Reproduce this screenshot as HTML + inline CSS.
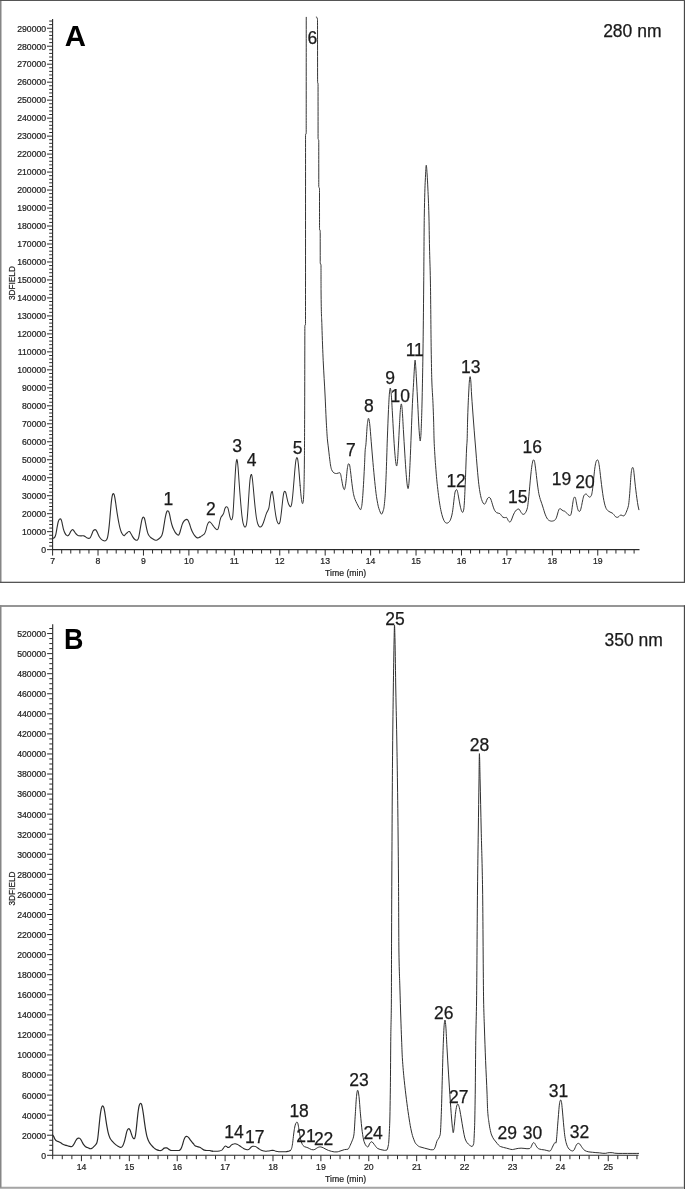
<!DOCTYPE html>
<html lang="en"><head><meta charset="utf-8"><title>HPLC chromatograms</title>
<style>html,body{margin:0;padding:0;background:#fff}svg{display:block}text{font-family:"Liberation Sans", Arial, Helvetica, sans-serif;fill:#1a1a1a}.s{font-size:8.7px;stroke:#2a2a2a;stroke-width:.22px}.l{font-size:17.5px;stroke:#1a1a1a;stroke-width:.25px}.b{font-size:27.0px;font-weight:bold;fill:#000}</style></head><body>
<svg width="685" height="1189" viewBox="0 0 685 1189">
<rect width="685" height="1189" fill="#fff"/>
<rect x="0" y="0" width="1.5" height="583" fill="#868686"/>
<rect x="683.85" y="0" width="1.15" height="583" fill="#484848"/>
<rect x="0" y="0" width="685" height="1" fill="#555"/>
<rect x="0" y="581.7" width="685" height="1.3" fill="#555"/>
<rect x="0" y="605.1" width="1.5" height="583.9" fill="#868686"/>
<rect x="0" y="605.1" width="685" height="1.8" fill="#8a8a8a"/>
<rect x="683.85" y="605.3" width="1.15" height="583.7" fill="#484848"/>
<rect x="0" y="1186.8" width="683.85" height="1" fill="#8a8a8a"/>
<rect x="0" y="1187.8" width="683.85" height="1.2" fill="#b8b8b8"/>
<path d="M52.6,19.0V549.65H639.5" fill="none" stroke="#2a2a2a" stroke-width="1.1"/>
<path d="M47.00,549.65H52.6M49.20,546.05H52.6M49.20,542.46H52.6M49.20,538.86H52.6M49.20,535.27H52.6M47.00,531.67H52.6M49.20,528.07H52.6M49.20,524.48H52.6M49.20,520.88H52.6M49.20,517.29H52.6M47.00,513.69H52.6M49.20,510.09H52.6M49.20,506.50H52.6M49.20,502.90H52.6M49.20,499.31H52.6M47.00,495.71H52.6M49.20,492.11H52.6M49.20,488.52H52.6M49.20,484.92H52.6M49.20,481.33H52.6M47.00,477.73H52.6M49.20,474.13H52.6M49.20,470.54H52.6M49.20,466.94H52.6M49.20,463.35H52.6M47.00,459.75H52.6M49.20,456.15H52.6M49.20,452.56H52.6M49.20,448.96H52.6M49.20,445.37H52.6M47.00,441.77H52.6M49.20,438.17H52.6M49.20,434.58H52.6M49.20,430.98H52.6M49.20,427.39H52.6M47.00,423.79H52.6M49.20,420.19H52.6M49.20,416.60H52.6M49.20,413.00H52.6M49.20,409.41H52.6M47.00,405.81H52.6M49.20,402.21H52.6M49.20,398.62H52.6M49.20,395.02H52.6M49.20,391.43H52.6M47.00,387.83H52.6M49.20,384.23H52.6M49.20,380.64H52.6M49.20,377.04H52.6M49.20,373.45H52.6M47.00,369.85H52.6M49.20,366.25H52.6M49.20,362.66H52.6M49.20,359.06H52.6M49.20,355.47H52.6M47.00,351.87H52.6M49.20,348.27H52.6M49.20,344.68H52.6M49.20,341.08H52.6M49.20,337.49H52.6M47.00,333.89H52.6M49.20,330.29H52.6M49.20,326.70H52.6M49.20,323.10H52.6M49.20,319.51H52.6M47.00,315.91H52.6M49.20,312.31H52.6M49.20,308.72H52.6M49.20,305.12H52.6M49.20,301.53H52.6M47.00,297.93H52.6M49.20,294.33H52.6M49.20,290.74H52.6M49.20,287.14H52.6M49.20,283.55H52.6M47.00,279.95H52.6M49.20,276.35H52.6M49.20,272.76H52.6M49.20,269.16H52.6M49.20,265.57H52.6M47.00,261.97H52.6M49.20,258.37H52.6M49.20,254.78H52.6M49.20,251.18H52.6M49.20,247.59H52.6M47.00,243.99H52.6M49.20,240.39H52.6M49.20,236.80H52.6M49.20,233.20H52.6M49.20,229.61H52.6M47.00,226.01H52.6M49.20,222.41H52.6M49.20,218.82H52.6M49.20,215.22H52.6M49.20,211.63H52.6M47.00,208.03H52.6M49.20,204.43H52.6M49.20,200.84H52.6M49.20,197.24H52.6M49.20,193.65H52.6M47.00,190.05H52.6M49.20,186.45H52.6M49.20,182.86H52.6M49.20,179.26H52.6M49.20,175.67H52.6M47.00,172.07H52.6M49.20,168.47H52.6M49.20,164.88H52.6M49.20,161.28H52.6M49.20,157.69H52.6M47.00,154.09H52.6M49.20,150.49H52.6M49.20,146.90H52.6M49.20,143.30H52.6M49.20,139.71H52.6M47.00,136.11H52.6M49.20,132.51H52.6M49.20,128.92H52.6M49.20,125.32H52.6M49.20,121.73H52.6M47.00,118.13H52.6M49.20,114.53H52.6M49.20,110.94H52.6M49.20,107.34H52.6M49.20,103.75H52.6M47.00,100.15H52.6M49.20,96.55H52.6M49.20,92.96H52.6M49.20,89.36H52.6M49.20,85.77H52.6M47.00,82.17H52.6M49.20,78.57H52.6M49.20,74.98H52.6M49.20,71.38H52.6M49.20,67.79H52.6M47.00,64.19H52.6M49.20,60.59H52.6M49.20,57.00H52.6M49.20,53.40H52.6M49.20,49.81H52.6M47.00,46.21H52.6M49.20,42.61H52.6M49.20,39.02H52.6M49.20,35.42H52.6M49.20,31.83H52.6M47.00,28.23H52.6M49.20,24.63H52.6M49.20,21.04H52.6" fill="none" stroke="#2a2a2a" stroke-width="1.0"/>
<path d="M52.60,549.65v5.9M61.69,549.65v3.9M70.77,549.65v3.9M79.86,549.65v3.9M88.94,549.65v3.9M98.03,549.65v5.9M107.12,549.65v3.9M116.20,549.65v3.9M125.29,549.65v3.9M134.37,549.65v3.9M143.46,549.65v5.9M152.55,549.65v3.9M161.63,549.65v3.9M170.72,549.65v3.9M179.80,549.65v3.9M188.89,549.65v5.9M197.98,549.65v3.9M207.06,549.65v3.9M216.15,549.65v3.9M225.23,549.65v3.9M234.32,549.65v5.9M243.41,549.65v3.9M252.49,549.65v3.9M261.58,549.65v3.9M270.66,549.65v3.9M279.75,549.65v5.9M288.84,549.65v3.9M297.92,549.65v3.9M307.01,549.65v3.9M316.09,549.65v3.9M325.18,549.65v5.9M334.27,549.65v3.9M343.35,549.65v3.9M352.44,549.65v3.9M361.52,549.65v3.9M370.61,549.65v5.9M379.70,549.65v3.9M388.78,549.65v3.9M397.87,549.65v3.9M406.95,549.65v3.9M416.04,549.65v5.9M425.13,549.65v3.9M434.21,549.65v3.9M443.30,549.65v3.9M452.38,549.65v3.9M461.47,549.65v5.9M470.56,549.65v3.9M479.64,549.65v3.9M488.73,549.65v3.9M497.81,549.65v3.9M506.90,549.65v5.9M515.99,549.65v3.9M525.07,549.65v3.9M534.16,549.65v3.9M543.24,549.65v3.9M552.33,549.65v5.9M561.42,549.65v3.9M570.50,549.65v3.9M579.59,549.65v3.9M588.67,549.65v3.9M597.76,549.65v5.9M606.85,549.65v3.9M615.93,549.65v3.9M625.02,549.65v3.9M634.10,549.65v3.9" fill="none" stroke="#2a2a2a" stroke-width="1.0"/>
<g class="s" text-anchor="end">
<text transform="translate(46.2,552.95) scale(1,1.06)">0</text>
<text transform="translate(46.2,534.97) scale(1,1.06)">10000</text>
<text transform="translate(46.2,516.99) scale(1,1.06)">20000</text>
<text transform="translate(46.2,499.01) scale(1,1.06)">30000</text>
<text transform="translate(46.2,481.03) scale(1,1.06)">40000</text>
<text transform="translate(46.2,463.05) scale(1,1.06)">50000</text>
<text transform="translate(46.2,445.07) scale(1,1.06)">60000</text>
<text transform="translate(46.2,427.09) scale(1,1.06)">70000</text>
<text transform="translate(46.2,409.11) scale(1,1.06)">80000</text>
<text transform="translate(46.2,391.13) scale(1,1.06)">90000</text>
<text transform="translate(46.2,373.15) scale(1,1.06)">100000</text>
<text transform="translate(46.2,355.17) scale(1,1.06)">110000</text>
<text transform="translate(46.2,337.19) scale(1,1.06)">120000</text>
<text transform="translate(46.2,319.21) scale(1,1.06)">130000</text>
<text transform="translate(46.2,301.23) scale(1,1.06)">140000</text>
<text transform="translate(46.2,283.25) scale(1,1.06)">150000</text>
<text transform="translate(46.2,265.27) scale(1,1.06)">160000</text>
<text transform="translate(46.2,247.29) scale(1,1.06)">170000</text>
<text transform="translate(46.2,229.31) scale(1,1.06)">180000</text>
<text transform="translate(46.2,211.33) scale(1,1.06)">190000</text>
<text transform="translate(46.2,193.35) scale(1,1.06)">200000</text>
<text transform="translate(46.2,175.37) scale(1,1.06)">210000</text>
<text transform="translate(46.2,157.39) scale(1,1.06)">220000</text>
<text transform="translate(46.2,139.41) scale(1,1.06)">230000</text>
<text transform="translate(46.2,121.43) scale(1,1.06)">240000</text>
<text transform="translate(46.2,103.45) scale(1,1.06)">250000</text>
<text transform="translate(46.2,85.47) scale(1,1.06)">260000</text>
<text transform="translate(46.2,67.49) scale(1,1.06)">270000</text>
<text transform="translate(46.2,49.51) scale(1,1.06)">280000</text>
<text transform="translate(46.2,31.53) scale(1,1.06)">290000</text>
</g>
<g class="s" text-anchor="middle">
<text transform="translate(52.60,564.4) scale(1,1.06)">7</text>
<text transform="translate(98.03,564.4) scale(1,1.06)">8</text>
<text transform="translate(143.46,564.4) scale(1,1.06)">9</text>
<text transform="translate(188.89,564.4) scale(1,1.06)">10</text>
<text transform="translate(234.32,564.4) scale(1,1.06)">11</text>
<text transform="translate(279.75,564.4) scale(1,1.06)">12</text>
<text transform="translate(325.18,564.4) scale(1,1.06)">13</text>
<text transform="translate(370.61,564.4) scale(1,1.06)">14</text>
<text transform="translate(416.04,564.4) scale(1,1.06)">15</text>
<text transform="translate(461.47,564.4) scale(1,1.06)">16</text>
<text transform="translate(506.90,564.4) scale(1,1.06)">17</text>
<text transform="translate(552.33,564.4) scale(1,1.06)">18</text>
<text transform="translate(597.76,564.4) scale(1,1.06)">19</text>
<text transform="translate(345.6,575.8) scale(1,1.06)">Time (min)</text>
<text transform="translate(15.0,283.1) rotate(-90) scale(0.95,1.04)">3DFIELD</text>
</g>
<g fill="none" stroke="#303030" stroke-linejoin="round" stroke-linecap="round">
<path d="M52.57,538.16C53.27,538.47 53.97,537.93 54.67,537.23C55.06,536.83 55.45,535.72 55.84,534.31C56.23,532.89 56.62,529.92 57.01,527.88C57.40,525.84 57.79,523.27 58.18,522.04C58.56,520.81 58.95,519.85 59.34,519.47C59.65,519.17 59.97,518.91 60.28,518.89C60.63,518.87 60.98,519.29 61.33,519.94C61.64,520.52 61.95,522.45 62.26,523.80C62.65,525.48 63.04,527.71 63.43,529.05C63.94,530.79 64.44,532.26 64.95,533.14C65.42,533.95 65.88,534.74 66.35,535.12C66.82,535.51 67.28,535.90 67.75,535.82C68.26,535.74 68.76,535.02 69.27,534.31C69.78,533.60 70.28,532.18 70.79,531.39C71.18,530.78 71.57,530.15 71.96,529.87C72.23,529.67 72.50,529.54 72.77,529.64C73.16,529.77 73.55,530.31 73.94,530.80C74.45,531.44 74.95,532.50 75.46,533.14C76.00,533.83 76.55,534.51 77.09,534.89C77.60,535.25 78.11,535.67 78.61,535.71C79.39,535.77 80.17,535.80 80.95,535.82C81.92,535.85 82.90,535.77 83.87,535.82C84.45,535.86 85.04,536.51 85.62,536.88C86.20,537.25 86.79,537.76 87.37,538.04C87.84,538.27 88.31,538.36 88.77,538.39C89.28,538.43 89.79,538.06 90.29,537.58C90.80,537.09 91.30,535.48 91.81,534.31C92.28,533.22 92.74,531.40 93.21,530.80C93.60,530.30 93.99,530.03 94.38,529.87C94.69,529.74 95.00,529.61 95.31,529.64C95.66,529.66 96.01,530.09 96.36,530.57C96.87,531.26 97.38,532.69 97.88,533.72C98.47,534.91 99.05,536.33 99.64,537.23C100.22,538.12 100.80,538.86 101.39,539.33C101.97,539.80 102.55,540.25 103.14,540.50C103.72,540.75 104.31,540.93 104.89,540.96C105.36,540.99 105.82,540.50 106.29,540.15C106.68,539.85 107.07,538.88 107.46,537.81C107.77,536.95 108.08,534.67 108.39,532.55C108.71,530.44 109.02,527.48 109.33,524.38C109.64,521.28 109.95,517.37 110.26,513.87C110.57,510.36 110.89,506.23 111.20,503.36C111.51,500.48 111.82,497.73 112.13,496.35C112.36,495.32 112.60,494.25 112.83,494.01C113.03,493.82 113.22,493.66 113.42,493.66C113.65,493.66 113.88,494.13 114.12,494.60C114.39,495.14 114.66,496.65 114.93,498.10C115.28,499.98 115.64,502.71 115.99,505.11C116.37,507.77 116.76,510.81 117.15,513.28C117.66,516.50 118.17,519.47 118.67,522.04C119.14,524.42 119.61,526.82 120.07,528.47C120.54,530.11 121.01,531.66 121.47,532.55C121.98,533.52 122.49,534.40 122.99,534.89C123.42,535.30 123.85,535.91 124.28,535.71C124.52,535.60 124.76,535.14 125.00,534.89C125.58,534.28 126.17,533.69 126.75,533.14C127.34,532.59 127.92,531.95 128.50,531.62C128.82,531.44 129.13,531.46 129.44,531.62C129.91,531.86 130.37,532.76 130.84,533.49C131.42,534.40 132.01,535.74 132.59,536.64C133.18,537.54 133.76,538.46 134.34,538.98C134.93,539.50 135.51,539.92 136.09,540.15C136.48,540.30 136.87,540.22 137.26,540.15C137.65,540.07 138.04,539.33 138.43,538.39C138.82,537.46 139.21,534.70 139.60,532.55C139.99,530.41 140.38,527.68 140.77,525.55C141.16,523.41 141.55,521.03 141.93,519.71C142.25,518.65 142.56,517.67 142.87,517.37C143.14,517.11 143.41,517.01 143.69,517.14C143.96,517.27 144.23,517.83 144.50,518.54C144.82,519.35 145.13,521.17 145.44,522.63C145.83,524.45 146.22,526.72 146.61,528.47C147.00,530.21 147.38,532.12 147.77,533.14C148.16,534.16 148.55,534.96 148.94,535.47C149.53,536.25 150.11,537.02 150.69,537.46C151.47,538.05 152.25,538.53 153.03,538.98C153.61,539.31 154.20,539.69 154.78,539.91C155.36,540.14 155.95,540.32 156.53,540.26C157.12,540.21 157.70,539.71 158.28,539.33C158.87,538.95 159.45,538.37 160.04,537.81C160.62,537.25 161.20,536.48 161.79,535.47C162.18,534.81 162.57,533.17 162.96,531.39C163.35,529.60 163.73,526.72 164.12,524.38C164.51,522.04 164.90,519.34 165.29,517.37C165.68,515.41 166.07,513.44 166.46,512.47C166.73,511.79 167.00,511.16 167.28,510.95C167.51,510.77 167.74,510.66 167.98,510.72C168.25,510.78 168.52,511.25 168.80,511.77C169.11,512.35 169.42,513.73 169.73,515.04C170.08,516.50 170.43,518.73 170.78,520.29C171.17,522.02 171.56,523.73 171.95,524.96C172.45,526.56 172.96,527.97 173.47,529.05C174.05,530.30 174.64,531.52 175.22,532.32C175.80,533.12 176.39,533.80 176.97,534.31C177.48,534.75 177.98,535.13 178.49,535.12C178.88,535.12 179.27,534.11 179.66,533.14C180.05,532.17 180.44,530.38 180.82,529.05C181.29,527.46 181.76,525.54 182.23,524.38C182.73,523.12 183.24,522.12 183.74,521.46C184.21,520.85 184.68,520.23 185.15,519.94C185.65,519.63 186.16,519.40 186.66,519.36C187.13,519.32 187.60,519.76 188.07,520.29C188.53,520.83 189.00,522.49 189.47,523.80C189.97,525.21 190.48,527.12 190.99,528.47C191.57,530.02 192.15,531.44 192.74,532.55C193.32,533.67 193.91,534.76 194.49,535.47C195.07,536.18 195.66,536.86 196.24,537.23C196.75,537.54 197.25,537.97 197.76,537.93C198.51,537.87 199.25,537.41 200.00,537.01" stroke-width="1.12"/>
<path d="M200.00,537.01C200.78,536.59 201.56,536.01 202.34,535.49C203.04,535.02 203.74,534.56 204.44,533.85C204.91,533.38 205.37,531.98 205.84,530.58C206.23,529.42 206.62,527.12 207.01,525.91C207.40,524.70 207.79,523.48 208.18,522.99C208.64,522.40 209.11,521.71 209.58,521.82C210.08,521.95 210.59,522.45 211.09,522.99C211.68,523.62 212.26,524.55 212.85,525.33C213.43,526.11 214.01,526.98 214.60,527.66C215.18,528.35 215.77,528.98 216.35,529.42C216.82,529.77 217.28,529.70 217.75,529.42C218.14,529.18 218.53,527.42 218.92,525.91C219.31,524.41 219.70,521.58 220.09,520.07C220.40,518.86 220.71,517.70 221.02,517.15C221.49,516.34 221.96,516.11 222.42,515.40C222.85,514.76 223.28,514.11 223.71,513.07C224.06,512.21 224.41,509.83 224.76,508.98C225.15,508.03 225.54,507.24 225.93,506.99C226.32,506.75 226.71,506.71 227.09,506.88C227.41,507.01 227.72,507.58 228.03,508.39C228.34,509.21 228.65,511.11 228.96,512.48C229.31,514.03 229.66,515.97 230.01,517.15C230.33,518.20 230.64,519.06 230.95,519.49C231.22,519.86 231.49,519.81 231.77,519.72C232.08,519.62 232.39,518.20 232.70,516.57C232.97,515.14 233.25,510.32 233.52,506.06C233.79,501.80 234.06,495.94 234.34,490.88C234.61,485.82 234.88,480.27 235.15,475.69C235.39,471.77 235.62,467.60 235.85,465.18C236.05,463.17 236.24,461.24 236.44,460.51C236.59,459.93 236.75,459.34 236.91,459.34C237.06,459.34 237.22,460.29 237.37,461.09C237.61,462.30 237.84,464.84 238.07,467.52C238.35,470.64 238.62,475.38 238.89,479.20C239.20,483.56 239.51,488.01 239.82,492.04C240.18,496.58 240.53,501.03 240.88,504.89C241.27,509.17 241.65,513.67 242.04,516.57C242.43,519.47 242.82,522.21 243.21,523.58C243.60,524.94 243.99,526.33 244.38,526.73C244.69,527.05 245.00,527.17 245.31,527.08C245.63,526.99 245.94,526.16 246.25,525.33C246.56,524.50 246.87,521.70 247.18,518.91C247.45,516.46 247.73,512.28 248.00,508.39C248.27,504.51 248.55,499.63 248.82,495.55C249.09,491.46 249.36,486.95 249.64,483.87C249.87,481.23 250.10,478.75 250.34,477.45C250.57,476.14 250.80,474.82 251.04,474.53C251.27,474.23 251.50,474.50 251.74,475.11C251.97,475.72 252.20,477.43 252.44,479.20C252.71,481.25 252.98,484.48 253.26,487.37C253.57,490.68 253.88,494.58 254.19,497.88C254.54,501.60 254.89,505.28 255.24,508.39C255.63,511.86 256.02,515.50 256.41,517.74C256.84,520.19 257.27,522.44 257.69,523.58C258.12,524.71 258.55,525.88 258.98,526.26C259.45,526.68 259.91,527.13 260.38,527.08C260.89,527.03 261.39,526.49 261.90,525.91C262.36,525.38 262.83,524.18 263.30,522.99C263.81,521.70 264.31,519.88 264.82,518.32C265.32,516.76 265.83,514.94 266.34,513.65C266.80,512.46 267.27,511.76 267.74,510.73C268.13,509.87 268.52,509.26 268.91,507.81C269.22,506.65 269.53,503.53 269.84,501.39C270.15,499.25 270.46,496.51 270.77,494.96C271.05,493.61 271.32,492.67 271.59,492.04C271.86,491.42 272.14,491.46 272.41,491.46C272.46,491.46 272.52,492.20 272.57,492.55C272.88,494.61 273.19,496.20 273.50,498.39C273.89,501.14 274.28,504.82 274.67,507.74C275.06,510.65 275.45,513.77 275.84,515.91C276.23,518.06 276.62,520.14 277.01,521.17C277.40,522.19 277.79,523.12 278.18,523.50C278.49,523.81 278.80,523.93 279.11,523.85C279.42,523.77 279.73,522.81 280.04,521.75C280.39,520.56 280.74,517.48 281.09,514.74C281.48,511.70 281.87,507.69 282.26,504.23C282.57,501.47 282.89,498.05 283.20,496.06C283.47,494.32 283.74,492.75 284.01,492.20C284.29,491.66 284.56,491.10 284.83,491.15C285.10,491.21 285.38,491.67 285.65,492.32C285.96,493.06 286.27,494.73 286.58,496.06C286.97,497.71 287.36,499.89 287.75,501.31C288.14,502.74 288.53,504.06 288.92,504.82C289.31,505.58 289.70,506.26 290.09,506.57C290.32,506.76 290.55,506.69 290.79,506.57C291.06,506.42 291.33,505.33 291.61,504.23C291.92,502.98 292.23,500.05 292.54,497.23C292.89,494.05 293.24,489.63 293.59,485.55C293.94,481.46 294.29,476.71 294.64,472.70C294.95,469.14 295.27,465.15 295.58,462.77C295.81,460.99 296.04,459.37 296.28,458.69C296.47,458.11 296.67,457.52 296.86,457.52C297.09,457.52 297.33,458.04 297.56,458.69C297.80,459.33 298.03,461.36 298.26,463.36C298.57,466.02 298.89,470.17 299.20,473.87C299.51,477.57 299.82,481.85 300.13,485.55" stroke-width="1.02"/>
<path d="M300.13,485.55C300.44,489.25 300.75,493.30 301.07,496.06C301.34,498.47 301.61,500.83 301.88,501.90C302.12,502.81 302.35,503.65 302.58,503.65C302.78,503.65 302.97,502.86 303.17,501.90C303.32,501.13 303.48,498.76 303.64,496.06C303.75,494.04 303.87,491.07 303.99,486.72C304.12,481.56 304.26,473.85 304.40,460.00C304.50,449.98 304.60,427.71 304.70,400.00C304.76,383.38 304.82,326.47 304.88,326.00C305.09,324.39 305.29,325.86 305.50,324.00C305.52,323.85 305.53,135.14 305.55,135.00C305.77,133.14 305.98,134.86 306.20,133.00C306.22,132.86 306.23,58.62 306.25,17.30" stroke-width="0.98"/>
<path d="M316.30,17.00C316.70,17.00 317.10,17.19 317.50,19.50C317.53,19.69 317.57,81.63 317.60,82.00C317.75,83.67 317.90,82.13 318.05,84.00C318.06,84.12 318.07,138.51 318.08,138.60C318.30,140.51 318.53,138.69 318.75,140.60C318.76,140.69 318.77,186.62 318.78,186.70C319.02,188.62 319.26,186.78 319.50,188.70C319.51,188.78 319.52,228.91 319.53,229.00C319.75,230.91 319.98,229.09 320.20,231.00C320.21,231.09 320.22,262.93 320.23,263.00C320.49,264.92 320.74,263.13 321.00,265.00C321.02,265.12 321.03,288.29 321.05,290.00C321.33,319.00 321.62,315.84 321.90,325.30C322.33,339.76 322.77,351.43 323.20,360.70C323.83,374.25 324.47,383.08 325.10,396.00C325.47,403.48 325.83,413.19 326.20,420.00C326.62,427.80 327.04,435.68 327.46,440.00C327.69,442.40 327.93,443.85 328.16,445.84C328.43,448.16 328.71,450.51 328.98,452.85C329.25,455.18 329.52,457.75 329.80,459.85C330.11,462.26 330.42,464.78 330.73,466.28C331.04,467.77 331.35,469.13 331.66,469.78C332.13,470.76 332.60,471.73 333.07,472.12C333.65,472.60 334.23,473.15 334.82,473.28C335.40,473.42 335.99,473.62 336.57,473.52C337.15,473.42 337.74,473.21 338.32,473.05C338.79,472.93 339.26,472.78 339.72,472.70C340.03,472.65 340.35,473.55 340.66,474.45C340.93,475.25 341.20,477.09 341.47,478.54C341.79,480.20 342.10,482.24 342.41,483.80C342.72,485.35 343.03,486.94 343.34,487.88C343.65,488.83 343.97,489.58 344.28,489.64C344.61,489.69 344.94,488.21 345.28,486.72C345.63,485.14 345.98,481.62 346.33,478.54C346.64,475.80 346.95,471.53 347.26,469.20C347.54,467.15 347.81,465.10 348.08,464.53C348.31,464.03 348.55,463.66 348.78,463.71C349.05,463.76 349.33,464.33 349.60,465.11C349.87,465.89 350.14,468.30 350.42,470.36C350.73,472.72 351.04,475.94 351.35,478.54C351.74,481.79 352.13,485.20 352.52,487.88C352.91,490.57 353.30,493.28 353.69,494.89C354.15,496.82 354.62,498.41 355.09,499.56C355.71,501.10 356.33,502.39 356.96,503.65C357.62,504.99 358.28,506.32 358.94,507.50C359.45,508.41 359.95,509.31 360.46,509.72C360.85,510.04 361.24,508.11 361.63,506.57C361.94,505.34 362.25,501.83 362.56,498.39C362.87,494.96 363.18,489.57 363.50,484.38C363.81,479.19 364.12,473.05 364.43,466.86C364.70,461.45 364.98,452.98 365.25,449.34C365.46,446.48 365.68,447.24 365.89,444.80C366.36,439.44 366.83,428.88 367.30,424.77C367.70,421.35 368.09,418.29 368.48,418.29C368.88,418.30 369.27,420.55 369.66,423.59C370.17,427.55 370.68,435.25 371.19,441.27C371.78,448.21 372.37,455.81 372.96,462.47C373.55,469.14 374.14,475.69 374.73,481.33C375.32,486.97 375.91,492.93 376.49,496.64C377.28,501.59 378.07,506.06 378.85,508.42C379.72,511.02 380.58,513.53 381.44,514.08C382.15,514.53 382.86,511.73 383.56,509.60C384.04,508.19 384.51,503.10 384.98,497.82C385.37,493.42 385.76,483.85 386.16,474.26C386.55,464.66 386.94,449.62 387.33,438.91C387.73,428.20 388.12,417.56 388.51,409.46C388.83,402.97 389.14,395.96 389.46,392.96C389.73,390.34 390.00,387.85 390.28,388.01C390.59,388.20 390.91,390.90 391.22,394.14C391.62,398.19 392.01,406.30 392.40,412.99C392.79,419.68 393.19,427.74 393.58,434.20C393.97,440.65 394.36,447.15 394.76,451.87C395.15,456.60 395.54,461.38 395.94,463.65C396.17,465.02 396.41,466.04 396.64,466.01C396.92,465.97 397.19,463.79 397.47,461.30C397.78,458.45 398.10,451.67 398.41,445.98C398.76,439.58 399.12,431.17 399.47,424.77C399.78,419.08 400.10,412.52 400.41,409.46C400.73,406.39 401.04,403.82 401.35,403.92C401.63,404.00 401.90,406.39 402.18,409.46C402.57,413.83 402.97,422.88 403.36,429.48C403.83,437.41 404.30,445.58 404.77,453.05C405.24,460.51 405.71,468.53 406.19,474.26C406.58,479.03 406.97,483.65 407.36,486.04C407.60,487.47 407.84,488.57 408.07,488.63C408.35,488.70 408.62,486.24 408.90,483.68C409.29,480.03 409.68,470.89 410.07,462.47C410.47,454.06 410.86,442.84 411.25,433.02C411.64,423.20 412.04,411.79 412.43,403.56C412.82,395.34 413.22,389.46 413.61,382.36C413.87,377.59 414.14,371.98 414.40,368.00C414.63,364.48 414.87,360.01 415.10,360.10C415.33,360.19 415.57,364.64 415.80,368.00C416.03,371.36 416.27,375.77 416.50,380.00C416.91,387.44 417.32,395.55 417.73,403.56C418.12,411.23 418.52,420.94 418.91,427.13C419.22,432.08 419.54,436.49 419.85,438.91C419.97,439.82 420.09,441.03 420.21,441.03C420.40,441.03 420.60,438.73 420.80,436.55C421.03,433.94 421.27,427.95 421.50,421.24C422.00,407.01 422.50,382.68 423.00,350.00C423.23,334.73 423.47,309.20 423.70,285.00C423.90,264.26 424.10,226.28 424.30,215.00C424.63,196.21 424.97,185.91 425.30,180.00C425.63,174.09 425.97,164.53 426.30,165.30C426.57,165.92 426.83,170.09 427.10,174.00C427.37,177.91 427.63,183.51 427.90,189.00C428.23,195.86 428.57,203.00 428.90,215.00C429.10,222.20 429.30,238.05 429.50,247.00C429.80,260.42 430.10,265.12 430.40,281.00C430.67,295.12 430.93,333.33 431.20,350.00C431.40,362.50 431.60,374.07 431.80,380.00C432.20,391.87 432.60,393.97 433.00,403.60C433.20,408.42 433.40,413.39 433.60,420.00C433.76,425.37 433.93,435.58 434.09,440.00C434.28,445.29 434.48,448.30 434.67,451.68C434.98,457.08 435.29,461.61 435.61,465.69C436.00,470.80 436.38,475.72 436.77,479.71C437.24,484.49 437.71,488.75 438.18,492.55C438.64,496.36 439.11,500.17 439.58,503.07C440.08,506.20 440.59,509.03 441.09,511.24C441.60,513.46 442.11,515.59 442.61,517.08C443.08,518.46 443.55,519.78 444.01,520.58C444.52,521.45 445.03,522.41 445.53,522.69C446.08,522.98 446.62,523.24 447.17,523.15C447.67,523.07 448.18,522.69 448.69,522.34C449.15,522.01 449.62,521.33 450.09,520.58C450.52,519.90 450.94,518.45 451.37,517.08C451.72,515.96 452.07,514.35 452.42,512.41C452.73,510.68 453.05,507.92 453.36,505.40C453.67,502.88 453.98,499.57 454.29,497.23C454.56,495.17 454.84,492.91 455.11,491.97C455.38,491.03 455.65,490.27 455.93,489.99C456.16,489.74 456.39,489.54 456.63,489.64C456.90,489.75 457.17,490.51 457.45,491.39C457.76,492.39 458.07,494.41 458.38,496.06C458.73,497.91 459.08,500.05 459.43,501.90C459.82,503.95 460.21,506.19 460.60,507.74C460.99,509.28 461.38,510.73 461.77,511.47C462.08,512.07 462.39,512.36 462.70,512.41C463.01,512.46 463.32,511.19 463.64,510.07C463.87,509.23 464.10,506.21 464.34,503.07C464.53,500.44 464.73,495.63 464.92,491.39C465.11,487.14 465.31,482.40 465.50,477.37C465.70,472.34 465.89,466.05 466.09,461.02C466.28,455.99 466.48,450.57 466.67,447.01C466.83,444.16 466.98,443.47 467.14,440.00C467.29,436.57 467.45,425.04 467.60,420.00C467.93,409.07 468.27,401.60 468.60,395.00C468.87,389.72 469.13,383.59 469.40,381.00C469.63,378.74 469.87,376.60 470.10,376.60C470.33,376.60 470.57,378.50 470.80,381.00C471.07,383.86 471.33,390.93 471.60,395.00C472.20,404.17 472.80,412.06 473.40,420.00C473.92,426.90 474.44,433.58 474.96,440.00C475.16,442.40 475.35,444.63 475.55,447.01C475.86,450.81 476.17,454.87 476.48,458.69C476.87,463.46 477.26,468.44 477.65,472.70C478.04,476.97 478.43,481.29 478.82,484.38C479.28,488.08 479.75,491.42 480.22,493.72C480.69,496.02 481.15,498.24 481.62,499.56C482.13,500.99 482.63,502.38 483.14,503.07C483.57,503.64 484.00,504.30 484.42,504.23C484.89,504.16 485.36,503.31 485.82,502.48C486.29,501.65 486.76,499.76 487.23,498.98C487.62,498.33 488.00,497.78 488.39,497.58C488.78,497.37 489.17,497.33 489.56,497.46C489.95,497.59 490.34,498.23 490.73,498.98C491.12,499.72 491.51,501.25 491.90,502.48C492.36,503.96 492.83,505.86 493.30,507.15C493.81,508.56 494.31,509.91 494.82,510.66C495.40,511.51 495.99,512.39 496.57,512.64C497.15,512.89 497.74,513.06 498.32,513.23C498.83,513.37 499.33,513.34 499.84,513.58C500.31,513.79 500.77,514.77 501.24,515.33C501.82,516.02 502.41,517.08 502.99,517.31C503.58,517.55 504.16,517.62 504.74,517.66C505.33,517.71 505.91,517.35 506.50,517.43C507.09,517.51 507.68,519.79 508.27,520.58C508.82,521.31 509.36,522.10 509.91,522.10C510.41,522.11 510.92,521.01 511.42,520.00C511.93,518.99 512.44,517.12 512.94,515.91C513.49,514.62 514.03,513.30 514.58,512.41C515.16,511.46 515.74,510.54 516.33,510.07C516.83,509.66 517.34,509.32 517.85,509.14C518.24,509.00 518.63,508.92 519.01,509.14C519.48,509.40 519.95,510.53 520.42,511.24C520.92,512.01 521.43,513.08 521.93,513.58C522.40,514.04 522.87,514.37 523.34,514.39C523.84,514.42 524.35,513.98 524.85,513.58C525.32,513.20 525.79,512.14 526.26,511.24C526.64,510.50 527.03,509.34 527.42,507.74C527.73,506.46 528.05,503.42 528.36,500.73C528.67,498.04 528.98,494.69 529.29,491.39C529.60,488.08 529.91,484.18 530.23,480.88C530.54,477.57 530.85,474.21 531.16,471.53C531.47,468.86 531.78,466.23 532.09,464.53C532.41,462.82 532.72,460.97 533.03,460.44C533.26,460.04 533.50,459.79 533.73,459.85C533.96,459.91 534.20,460.39 534.43,461.02C534.66,461.65 534.90,463.53 535.13,465.11C535.40,466.95 535.68,469.27 535.95,471.53C536.26,474.12 536.57,477.14 536.88,479.71C537.23,482.60 537.58,485.51 537.93,487.88C538.32,490.52 538.71,493.18 539.10,494.89C539.53,496.77 539.96,498.22 540.39,499.56C540.85,501.03 541.32,502.25 541.79,503.65C542.29,505.17 542.80,506.70 543.31,508.32C543.77,509.81 544.24,511.65 544.71,512.99C545.18,514.34 545.64,515.54 546.11,516.50C546.62,517.53 547.12,518.65 547.63,519.18C548.21,519.80 548.80,520.37 549.38,520.58C550.08,520.85 550.78,521.15 551.48,521.17C552.14,521.18 552.81,520.98 553.47,520.82C554.05,520.67 554.64,520.24 555.22,519.77C555.69,519.39 556.15,518.28 556.62,517.08C557.01,516.08 557.40,514.28 557.79,512.99C558.10,511.96 558.41,510.74 558.72,510.07C559.03,509.41 559.35,508.71 559.66,508.67C559.97,508.63 560.28,508.70 560.59,508.91C561.06,509.22 561.53,509.75 561.99,510.07C562.46,510.39 562.93,510.69 563.39,510.89C563.86,511.10 564.33,511.01 564.80,511.24C565.30,511.49 565.81,512.12 566.31,512.64C566.82,513.16 567.33,513.95 567.83,514.39C568.30,514.81 568.77,515.10 569.23,515.33C569.62,515.52 570.01,515.43 570.40,515.33C570.71,515.25 571.02,514.18 571.34,512.99C571.61,511.95 571.88,509.59 572.15,507.74C572.43,505.89 572.70,503.43 572.97,501.90C573.28,500.15 573.59,498.40 573.91,497.81C574.18,497.29 574.45,496.91 574.72,496.99C575.00,497.07 575.27,497.59 575.54,498.39C575.85,499.32 576.16,501.51 576.47,503.07C576.79,504.62 577.10,506.56 577.41,507.74C577.80,509.21 578.19,510.56 578.58,511.01C578.89,511.37 579.20,511.58 579.51,511.47C579.84,511.37 580.16,510.79 580.49,510.07C580.88,509.21 581.27,507.15 581.66,505.40C582.05,503.66 582.44,501.20 582.82,499.56C583.21,497.93 583.60,496.05 583.99,495.47C584.38,494.89 584.77,494.47 585.16,494.31C585.55,494.15 585.94,493.87 586.33,494.07C586.76,494.30 587.18,495.01 587.61,495.47C588.08,495.98 588.55,496.67 589.01,496.99C589.40,497.26 589.79,497.10 590.18,496.99C590.57,496.88 590.96,496.17 591.35,495.47C591.66,494.92 591.97,493.21 592.28,491.39C592.56,489.79 592.83,486.91 593.10,484.38C593.37,481.85 593.65,478.76 593.92,476.20C594.23,473.29 594.54,470.17 594.85,468.03C595.17,465.89 595.48,463.90 595.79,462.77C596.06,461.79 596.33,460.77 596.61,460.44C596.88,460.11 597.15,459.85 597.42,459.85C597.70,459.85 597.97,460.30 598.24,460.79C598.51,461.28 598.79,462.96 599.06,464.53C599.37,466.32 599.68,469.00 599.99,471.53C600.30,474.06 600.62,477.11 600.93,479.71C601.32,482.96 601.71,486.14 602.09,489.05C602.48,491.96 602.87,494.97 603.26,497.23C603.65,499.49 604.04,501.50 604.43,503.07C604.82,504.63 605.21,506.20 605.60,507.15C605.99,508.11 606.38,509.01 606.77,509.49C607.27,510.11 607.78,510.66 608.28,511.01C608.87,511.41 609.45,511.75 610.04,512.06C610.74,512.42 611.44,512.58 612.14,512.99C612.68,513.32 613.23,513.92 613.77,514.51C614.28,515.06 614.79,516.08 615.29,516.50C615.80,516.91 616.30,517.24 616.81,517.31C617.28,517.39 617.74,517.32 618.21,517.08C618.68,516.84 619.15,515.96 619.61,515.68C620.12,515.37 620.63,515.00 621.13,515.09C621.64,515.19 622.14,515.51 622.65,515.68C623.04,515.81 623.43,515.91 623.82,515.91C624.21,515.92 624.60,515.28 624.99,514.74C625.37,514.21 625.76,513.26 626.15,512.41C626.54,511.56 626.93,510.54 627.32,509.49C627.71,508.44 628.10,507.18 628.49,505.40C628.76,504.16 629.03,501.21 629.31,498.39C629.58,495.58 629.85,491.65 630.12,487.88C630.36,484.65 630.59,480.18 630.82,477.37C631.06,474.57 631.29,471.86 631.53,470.60C631.76,469.34 631.99,468.03 632.23,467.80C632.42,467.60 632.62,467.45 632.81,467.45C633.00,467.45 633.20,468.01 633.39,468.61C633.63,469.34 633.86,471.83 634.09,473.87C634.37,476.25 634.64,479.51 634.91,482.04C635.22,484.94 635.54,487.66 635.85,490.22C636.20,493.09 636.55,495.92 636.90,498.39C637.29,501.15 637.68,503.91 638.07,505.99C638.34,507.44 638.61,508.83 638.88,509.72" stroke-width="0.98"/>
</g>
<path d="M52.7,624.2V1155.3H638.6" fill="none" stroke="#2a2a2a" stroke-width="1.1"/>
<path d="M47.10,1155.30H52.7M49.30,1150.28H52.7M49.30,1145.27H52.7M49.30,1140.25H52.7M47.10,1135.23H52.7M49.30,1130.22H52.7M49.30,1125.20H52.7M49.30,1120.18H52.7M47.10,1115.17H52.7M49.30,1110.15H52.7M49.30,1105.13H52.7M49.30,1100.12H52.7M47.10,1095.10H52.7M49.30,1090.08H52.7M49.30,1085.07H52.7M49.30,1080.05H52.7M47.10,1075.03H52.7M49.30,1070.02H52.7M49.30,1065.00H52.7M49.30,1059.98H52.7M47.10,1054.96H52.7M49.30,1049.95H52.7M49.30,1044.93H52.7M49.30,1039.91H52.7M47.10,1034.90H52.7M49.30,1029.88H52.7M49.30,1024.86H52.7M49.30,1019.85H52.7M47.10,1014.83H52.7M49.30,1009.81H52.7M49.30,1004.80H52.7M49.30,999.78H52.7M47.10,994.76H52.7M49.30,989.75H52.7M49.30,984.73H52.7M49.30,979.71H52.7M47.10,974.70H52.7M49.30,969.68H52.7M49.30,964.66H52.7M49.30,959.65H52.7M47.10,954.63H52.7M49.30,949.61H52.7M49.30,944.60H52.7M49.30,939.58H52.7M47.10,934.56H52.7M49.30,929.55H52.7M49.30,924.53H52.7M49.30,919.51H52.7M47.10,914.50H52.7M49.30,909.48H52.7M49.30,904.46H52.7M49.30,899.45H52.7M47.10,894.43H52.7M49.30,889.41H52.7M49.30,884.40H52.7M49.30,879.38H52.7M47.10,874.36H52.7M49.30,869.35H52.7M49.30,864.33H52.7M49.30,859.31H52.7M47.10,854.29H52.7M49.30,849.28H52.7M49.30,844.26H52.7M49.30,839.24H52.7M47.10,834.23H52.7M49.30,829.21H52.7M49.30,824.19H52.7M49.30,819.18H52.7M47.10,814.16H52.7M49.30,809.14H52.7M49.30,804.13H52.7M49.30,799.11H52.7M47.10,794.09H52.7M49.30,789.08H52.7M49.30,784.06H52.7M49.30,779.04H52.7M47.10,774.03H52.7M49.30,769.01H52.7M49.30,763.99H52.7M49.30,758.98H52.7M47.10,753.96H52.7M49.30,748.94H52.7M49.30,743.93H52.7M49.30,738.91H52.7M47.10,733.89H52.7M49.30,728.88H52.7M49.30,723.86H52.7M49.30,718.84H52.7M47.10,713.83H52.7M49.30,708.81H52.7M49.30,703.79H52.7M49.30,698.78H52.7M47.10,693.76H52.7M49.30,688.74H52.7M49.30,683.73H52.7M49.30,678.71H52.7M47.10,673.69H52.7M49.30,668.68H52.7M49.30,663.66H52.7M49.30,658.64H52.7M47.10,653.62H52.7M49.30,648.61H52.7M49.30,643.59H52.7M49.30,638.57H52.7M47.10,633.56H52.7M49.30,628.54H52.7" fill="none" stroke="#2a2a2a" stroke-width="1.0"/>
<path d="M52.70,1155.3v3.9M62.28,1155.3v3.9M71.86,1155.3v3.9M81.43,1155.3v5.9M91.01,1155.3v3.9M100.59,1155.3v3.9M110.17,1155.3v3.9M119.75,1155.3v3.9M129.32,1155.3v5.9M138.90,1155.3v3.9M148.48,1155.3v3.9M158.06,1155.3v3.9M167.64,1155.3v3.9M177.21,1155.3v5.9M186.79,1155.3v3.9M196.37,1155.3v3.9M205.95,1155.3v3.9M215.53,1155.3v3.9M225.10,1155.3v5.9M234.68,1155.3v3.9M244.26,1155.3v3.9M253.84,1155.3v3.9M263.42,1155.3v3.9M272.99,1155.3v5.9M282.57,1155.3v3.9M292.15,1155.3v3.9M301.73,1155.3v3.9M311.31,1155.3v3.9M320.88,1155.3v5.9M330.46,1155.3v3.9M340.04,1155.3v3.9M349.62,1155.3v3.9M359.20,1155.3v3.9M368.77,1155.3v5.9M378.35,1155.3v3.9M387.93,1155.3v3.9M397.51,1155.3v3.9M407.09,1155.3v3.9M416.66,1155.3v5.9M426.24,1155.3v3.9M435.82,1155.3v3.9M445.40,1155.3v3.9M454.98,1155.3v3.9M464.55,1155.3v5.9M474.13,1155.3v3.9M483.71,1155.3v3.9M493.29,1155.3v3.9M502.87,1155.3v3.9M512.44,1155.3v5.9M522.02,1155.3v3.9M531.60,1155.3v3.9M541.18,1155.3v3.9M550.76,1155.3v3.9M560.33,1155.3v5.9M569.91,1155.3v3.9M579.49,1155.3v3.9M589.07,1155.3v3.9M598.65,1155.3v3.9M608.22,1155.3v5.9M617.80,1155.3v3.9M627.38,1155.3v3.9M636.96,1155.3v3.9" fill="none" stroke="#2a2a2a" stroke-width="1.0"/>
<g class="s" text-anchor="end">
<text transform="translate(46.2,1158.70) scale(1,1.06)">0</text>
<text transform="translate(46.2,1138.63) scale(1,1.06)">20000</text>
<text transform="translate(46.2,1118.57) scale(1,1.06)">40000</text>
<text transform="translate(46.2,1098.50) scale(1,1.06)">60000</text>
<text transform="translate(46.2,1078.43) scale(1,1.06)">80000</text>
<text transform="translate(46.2,1058.37) scale(1,1.06)">100000</text>
<text transform="translate(46.2,1038.30) scale(1,1.06)">120000</text>
<text transform="translate(46.2,1018.23) scale(1,1.06)">140000</text>
<text transform="translate(46.2,998.16) scale(1,1.06)">160000</text>
<text transform="translate(46.2,978.10) scale(1,1.06)">180000</text>
<text transform="translate(46.2,958.03) scale(1,1.06)">200000</text>
<text transform="translate(46.2,937.96) scale(1,1.06)">220000</text>
<text transform="translate(46.2,917.90) scale(1,1.06)">240000</text>
<text transform="translate(46.2,897.83) scale(1,1.06)">260000</text>
<text transform="translate(46.2,877.76) scale(1,1.06)">280000</text>
<text transform="translate(46.2,857.69) scale(1,1.06)">300000</text>
<text transform="translate(46.2,837.63) scale(1,1.06)">320000</text>
<text transform="translate(46.2,817.56) scale(1,1.06)">340000</text>
<text transform="translate(46.2,797.49) scale(1,1.06)">360000</text>
<text transform="translate(46.2,777.43) scale(1,1.06)">380000</text>
<text transform="translate(46.2,757.36) scale(1,1.06)">400000</text>
<text transform="translate(46.2,737.29) scale(1,1.06)">420000</text>
<text transform="translate(46.2,717.23) scale(1,1.06)">440000</text>
<text transform="translate(46.2,697.16) scale(1,1.06)">460000</text>
<text transform="translate(46.2,677.09) scale(1,1.06)">480000</text>
<text transform="translate(46.2,657.02) scale(1,1.06)">500000</text>
<text transform="translate(46.2,636.96) scale(1,1.06)">520000</text>
</g>
<g class="s" text-anchor="middle">
<text transform="translate(81.50,1169.8) scale(1,1.06)">14</text>
<text transform="translate(129.39,1169.8) scale(1,1.06)">15</text>
<text transform="translate(177.28,1169.8) scale(1,1.06)">16</text>
<text transform="translate(225.17,1169.8) scale(1,1.06)">17</text>
<text transform="translate(273.06,1169.8) scale(1,1.06)">18</text>
<text transform="translate(320.95,1169.8) scale(1,1.06)">19</text>
<text transform="translate(368.84,1169.8) scale(1,1.06)">20</text>
<text transform="translate(416.73,1169.8) scale(1,1.06)">21</text>
<text transform="translate(464.62,1169.8) scale(1,1.06)">22</text>
<text transform="translate(512.51,1169.8) scale(1,1.06)">23</text>
<text transform="translate(560.40,1169.8) scale(1,1.06)">24</text>
<text transform="translate(608.29,1169.8) scale(1,1.06)">25</text>
<text transform="translate(345.6,1181.5) scale(1,1.06)">Time (min)</text>
<text transform="translate(15.0,888.5) rotate(-90) scale(0.95,1.04)">3DFIELD</text>
</g>
<g fill="none" stroke="#2a2a2a" stroke-linejoin="round" stroke-linecap="round">
<path d="M52.57,1134.96C52.88,1135.16 53.19,1135.64 53.50,1136.13C53.97,1136.87 54.44,1138.38 54.91,1139.05C55.53,1139.94 56.15,1140.73 56.77,1141.04C57.44,1141.36 58.10,1141.43 58.76,1141.74C59.42,1142.04 60.08,1142.39 60.74,1142.79C61.45,1143.21 62.15,1143.98 62.85,1144.31C63.63,1144.67 64.40,1144.91 65.18,1145.12C65.96,1145.34 66.74,1145.49 67.52,1145.71C68.30,1145.92 69.08,1146.20 69.85,1146.41C70.36,1146.54 70.87,1146.62 71.37,1146.64C71.84,1146.66 72.31,1146.24 72.77,1145.82C73.28,1145.38 73.79,1144.36 74.29,1143.49C74.76,1142.69 75.23,1141.57 75.69,1140.80C76.16,1140.03 76.63,1139.19 77.09,1138.82C77.52,1138.48 77.95,1138.19 78.38,1138.12C78.77,1138.05 79.16,1138.11 79.55,1138.23C79.94,1138.35 80.33,1138.78 80.72,1139.28C81.18,1139.89 81.65,1141.14 82.12,1141.97C82.70,1143.01 83.28,1144.16 83.87,1144.89C84.45,1145.62 85.04,1146.27 85.62,1146.64C86.20,1147.01 86.79,1147.29 87.37,1147.58C87.96,1147.86 88.54,1148.18 89.12,1148.39C89.63,1148.58 90.14,1148.74 90.64,1148.74C91.11,1148.75 91.58,1148.44 92.04,1148.16C92.63,1147.81 93.21,1147.18 93.80,1146.64C94.38,1146.11 94.96,1145.52 95.55,1144.89C95.94,1144.47 96.33,1143.88 96.72,1143.14C97.03,1142.55 97.34,1140.87 97.65,1139.05C97.92,1137.46 98.19,1134.58 98.47,1132.04C98.74,1129.51 99.01,1126.51 99.28,1123.87C99.60,1120.85 99.91,1117.48 100.22,1115.11C100.53,1112.74 100.84,1110.53 101.15,1109.27C101.46,1108.01 101.78,1106.69 102.09,1106.35C102.36,1106.05 102.63,1105.89 102.91,1106.00C103.18,1106.11 103.45,1106.65 103.72,1107.28C104.03,1108.01 104.35,1109.86 104.66,1111.61C105.01,1113.57 105.36,1116.31 105.71,1118.61C106.10,1121.18 106.49,1123.99 106.88,1126.20C107.27,1128.42 107.65,1130.47 108.04,1132.04C108.43,1133.62 108.82,1135.09 109.21,1136.13C109.64,1137.28 110.07,1138.39 110.50,1139.05C111.04,1139.89 111.59,1140.54 112.13,1141.15C112.75,1141.86 113.38,1142.54 114.00,1143.14C114.66,1143.77 115.32,1144.38 115.99,1144.89C116.65,1145.41 117.31,1145.90 117.97,1146.29C118.59,1146.66 119.22,1147.01 119.84,1147.23C120.36,1147.40 120.88,1147.33 121.40,1147.23C121.91,1147.12 122.41,1146.26 122.92,1145.47C123.43,1144.69 123.93,1143.08 124.44,1141.39C124.91,1139.82 125.37,1137.46 125.84,1135.55C126.23,1133.96 126.62,1131.87 127.01,1130.88C127.40,1129.88 127.79,1129.12 128.18,1128.89C128.49,1128.70 128.80,1128.62 129.11,1128.77C129.46,1128.95 129.81,1129.56 130.16,1130.29C130.55,1131.11 130.94,1132.68 131.33,1133.80C131.76,1135.02 132.18,1136.54 132.61,1137.30C133.00,1137.99 133.39,1138.47 133.78,1138.70C134.05,1138.87 134.33,1138.70 134.60,1138.47C134.87,1138.24 135.14,1136.86 135.42,1135.55C135.73,1134.05 136.04,1131.24 136.35,1128.54C136.66,1125.84 136.97,1122.11 137.28,1119.20C137.60,1116.29 137.91,1113.17 138.22,1111.02C138.53,1108.87 138.84,1106.72 139.15,1105.77C139.46,1104.82 139.78,1103.91 140.09,1103.66C140.32,1103.48 140.55,1103.36 140.79,1103.43C141.06,1103.51 141.33,1104.02 141.61,1104.60C141.88,1105.18 142.15,1106.71 142.42,1108.10C142.73,1109.69 143.05,1111.81 143.36,1113.94C143.75,1116.61 144.14,1119.99 144.53,1122.70C144.91,1125.41 145.30,1128.09 145.69,1130.29C146.08,1132.49 146.47,1134.74 146.86,1136.13C147.33,1137.81 147.80,1139.20 148.26,1140.22C148.77,1141.33 149.27,1142.37 149.78,1143.14C150.36,1144.02 150.95,1144.83 151.53,1145.47C152.12,1146.12 152.70,1146.69 153.28,1147.23C153.87,1147.76 154.45,1148.35 155.04,1148.74C155.74,1149.22 156.44,1149.65 157.14,1149.91C157.80,1150.16 158.46,1150.38 159.12,1150.50C159.79,1150.61 160.45,1150.61 161.11,1150.50C161.62,1150.41 162.12,1149.94 162.63,1149.56C163.13,1149.18 163.64,1148.38 164.15,1148.16C164.61,1147.95 165.08,1147.82 165.55,1147.81C165.94,1147.80 166.33,1147.84 166.72,1147.93C167.18,1148.03 167.65,1148.34 168.12,1148.63C168.62,1148.94 169.13,1149.52 169.64,1149.80C170.22,1150.12 170.80,1150.50 171.39,1150.50C172.17,1150.50 172.94,1150.50 173.72,1150.50C174.70,1150.50 175.67,1150.50 176.64,1150.50C177.42,1150.50 178.20,1150.50 178.98,1150.50C179.45,1150.50 179.91,1149.99 180.38,1149.56C180.81,1149.17 181.24,1148.20 181.66,1147.23C182.05,1146.34 182.44,1144.98 182.83,1143.72C183.22,1142.46 183.61,1140.72 184.00,1139.64C184.39,1138.55 184.78,1137.42 185.17,1137.07C185.56,1136.71 185.95,1136.40 186.34,1136.36C186.65,1136.34 186.96,1136.36 187.27,1136.48C187.74,1136.66 188.20,1137.14 188.67,1137.65C189.14,1138.16 189.61,1138.99 190.07,1139.64C190.66,1140.44 191.24,1141.25 191.82,1141.97C192.41,1142.69 192.99,1143.25 193.58,1143.96C194.05,1144.53 194.53,1145.56 195.00,1145.82C195.78,1146.26 196.56,1146.42 197.34,1146.64C198.11,1146.86 198.89,1146.92 199.67,1147.23C200.45,1147.54 201.23,1148.26 202.01,1148.74C202.79,1149.23 203.56,1149.94 204.34,1150.15C205.12,1150.35 205.90,1150.46 206.68,1150.50C207.65,1150.54 208.63,1150.41 209.60,1150.50C210.57,1150.59 211.55,1151.15 212.52,1151.20" stroke-width="1.18"/>
<path d="M212.52,1151.20C213.69,1151.26 214.85,1151.23 216.02,1151.20C217.19,1151.16 218.36,1151.06 219.53,1150.96C220.30,1150.90 221.08,1150.60 221.86,1150.15C222.33,1149.87 222.80,1149.00 223.26,1148.39C223.69,1147.84 224.12,1147.03 224.55,1146.64C224.90,1146.33 225.25,1145.99 225.60,1146.06C225.99,1146.14 226.38,1146.42 226.77,1146.64C227.19,1146.89 227.62,1147.33 228.05,1147.46C228.52,1147.60 228.99,1147.31 229.45,1146.99C229.84,1146.73 230.23,1146.18 230.62,1145.82C231.13,1145.36 231.63,1144.83 232.14,1144.54C232.61,1144.27 233.07,1144.03 233.54,1143.96C234.12,1143.86 234.71,1143.79 235.29,1143.84C235.88,1143.89 236.46,1144.09 237.04,1144.31C237.74,1144.57 238.45,1145.03 239.15,1145.47C239.81,1145.89 240.47,1146.43 241.13,1146.88C241.79,1147.32 242.45,1147.76 243.12,1148.16C243.82,1148.58 244.52,1149.06 245.22,1149.33C245.80,1149.55 246.39,1149.73 246.97,1149.80C247.48,1149.85 247.98,1149.75 248.49,1149.56C248.96,1149.39 249.42,1148.82 249.89,1148.39C250.36,1147.97 250.82,1147.30 251.29,1146.99C251.80,1146.66 252.30,1146.39 252.81,1146.29C253.32,1146.20 253.82,1146.12 254.33,1146.18C254.80,1146.22 255.26,1146.42 255.73,1146.64C256.31,1146.92 256.90,1147.42 257.48,1147.81C258.07,1148.20 258.65,1148.62 259.23,1148.98C259.93,1149.41 260.64,1149.86 261.34,1150.15C262.19,1150.49 263.05,1150.83 263.91,1150.96C264.68,1151.08 265.46,1151.24 266.24,1151.20C266.94,1151.16 267.64,1151.05 268.34,1150.96C268.90,1150.89 269.45,1150.81 270.00,1150.73C270.78,1150.62 271.56,1150.46 272.34,1150.38C272.92,1150.32 273.50,1150.39 274.09,1150.50C274.67,1150.60 275.26,1151.20 275.84,1151.31C276.81,1151.50 277.79,1151.66 278.76,1151.66C279.93,1151.66 281.09,1151.66 282.26,1151.66C283.43,1151.66 284.60,1151.66 285.77,1151.66C286.74,1151.66 287.71,1151.37 288.69,1151.20C289.27,1151.09 289.85,1150.79 290.44,1150.50" stroke-width="1.05"/>
<path d="M290.44,1150.50C290.83,1150.30 291.22,1149.34 291.61,1148.39C291.92,1147.64 292.23,1145.75 292.54,1143.72C292.81,1141.95 293.09,1138.89 293.36,1136.72C293.67,1134.23 293.98,1131.58 294.29,1129.71C294.60,1127.83 294.91,1126.03 295.23,1125.04C295.54,1124.04 295.85,1123.08 296.16,1122.70C296.47,1122.32 296.78,1122.07 297.09,1122.12C297.33,1122.15 297.56,1122.67 297.80,1123.28C298.07,1124.00 298.34,1125.84 298.61,1127.37C298.92,1129.13 299.24,1131.38 299.55,1133.21C299.90,1135.28 300.25,1137.54 300.60,1139.05C300.99,1140.73 301.38,1142.26 301.77,1143.14C302.19,1144.10 302.62,1145.03 303.05,1145.47C303.52,1145.96 303.99,1146.46 304.45,1146.64C305.04,1146.87 305.62,1147.03 306.20,1147.23C306.79,1147.42 307.37,1147.57 307.96,1147.81C308.54,1148.05 309.12,1148.45 309.71,1148.74C310.29,1149.04 310.88,1149.40 311.46,1149.56C312.04,1149.73 312.63,1149.82 313.21,1149.80C313.80,1149.77 314.38,1149.58 314.96,1149.33C315.55,1149.08 316.13,1148.51 316.72,1148.16C317.30,1147.81 317.88,1147.41 318.47,1147.23C319.05,1147.04 319.64,1146.87 320.22,1146.88C320.80,1146.88 321.39,1147.05 321.97,1147.23C322.55,1147.41 323.14,1147.75 323.72,1148.04C324.50,1148.44 325.28,1148.94 326.06,1149.33C326.84,1149.72 327.62,1150.09 328.39,1150.38C329.37,1150.74 330.34,1151.08 331.31,1151.31C332.29,1151.55 333.26,1151.80 334.23,1151.90C335.21,1152.00 336.18,1152.02 337.15,1151.90C338.10,1151.78 339.05,1151.39 340.00,1151.09C341.46,1150.65 342.92,1150.08 344.38,1149.64C345.60,1149.26 346.81,1149.64 348.03,1149.20C348.76,1148.93 349.49,1146.72 350.22,1145.26C350.95,1143.79 351.68,1141.95 352.41,1140.15C352.90,1138.95 353.38,1137.87 353.87,1135.04C354.36,1132.20 354.84,1121.05 355.33,1113.87C355.72,1108.13 356.11,1099.92 356.50,1096.35C356.89,1092.78 357.27,1090.10 357.66,1090.22C358.10,1090.35 358.54,1092.89 358.98,1096.35C359.46,1100.19 359.95,1108.57 360.44,1113.87C361.02,1120.22 361.61,1127.29 362.19,1131.39C362.82,1135.82 363.45,1139.94 364.09,1141.61C364.82,1143.52 365.55,1145.33 366.28,1145.99C366.91,1146.55 367.54,1147.25 368.18,1146.72C368.76,1146.23 369.34,1143.72 369.93,1143.07C370.66,1142.24 371.39,1141.41 372.12,1141.90C372.85,1142.38 373.58,1143.63 374.31,1144.53C375.28,1145.72 376.25,1147.55 377.23,1148.18C378.44,1148.95 379.66,1149.35 380.88,1149.64C382.09,1149.92 383.31,1150.16 384.53,1150.36C385.35,1150.50 386.18,1150.12 387.01,1149.93C387.49,1149.81 387.98,1146.77 388.47,1144.53C388.86,1142.73 389.25,1133.70 389.64,1125.55C389.88,1120.45 390.12,1105.67 390.36,1087.59C390.51,1076.74 390.66,1048.55 390.80,1036.50C391.00,1020.42 391.19,1023.99 391.39,1000.00C391.44,993.30 391.50,956.03 391.55,940.00C391.63,915.43 391.72,896.71 391.80,880.00C392.07,826.53 392.33,779.72 392.60,750.00C392.83,723.99 393.07,706.93 393.30,690.00C393.57,670.66 393.83,652.05 394.10,640.00C394.23,633.97 394.37,625.20 394.50,625.20C394.67,625.20 394.83,633.48 395.00,640.00C395.27,650.43 395.53,675.10 395.80,690.00C396.17,710.49 396.53,722.33 396.90,745.00C397.43,777.97 397.97,814.72 398.50,880.00C398.63,896.32 398.77,940.83 398.90,950.00C399.23,972.92 399.57,976.18 399.90,988.00C400.20,998.64 400.50,1008.98 400.80,1018.00C401.07,1026.02 401.33,1033.17 401.60,1040.00C401.85,1046.28 402.09,1053.80 402.34,1057.66C402.97,1067.63 403.60,1074.32 404.23,1080.29C404.96,1087.18 405.69,1093.56 406.42,1099.27C407.15,1104.98 407.88,1110.53 408.61,1115.33C409.34,1120.13 410.07,1124.99 410.80,1128.47C411.53,1131.94 412.26,1135.20 412.99,1137.23C413.97,1139.92 414.94,1142.77 415.91,1143.80C417.13,1145.08 418.35,1146.31 419.56,1146.72C421.27,1147.28 422.97,1147.72 424.67,1148.18C426.71,1148.72 428.74,1149.30 430.77,1149.76C431.76,1149.99 432.75,1149.75 433.74,1149.49C434.32,1149.34 434.90,1147.61 435.49,1146.13C435.94,1144.99 436.39,1142.50 436.84,1141.41C437.51,1139.79 438.18,1139.25 438.86,1138.05C439.30,1137.25 439.75,1136.25 440.20,1134.68C440.56,1133.42 440.92,1123.37 441.28,1114.48C441.59,1106.70 441.91,1092.03 442.22,1080.81C442.54,1069.58 442.85,1055.56 443.16,1047.14C443.52,1037.51 443.88,1027.55 444.24,1024.24C444.51,1021.76 444.78,1019.57 445.05,1020.20C445.32,1020.83 445.59,1023.48 445.86,1026.94C446.22,1031.54 446.58,1040.84 446.94,1047.14C447.47,1056.59 448.01,1065.47 448.55,1074.07C449.14,1083.39 449.72,1092.73 450.30,1101.01C450.89,1109.29 451.47,1118.11 452.05,1123.91C452.46,1127.92 452.86,1133.05 453.27,1132.66C453.63,1132.31 453.98,1128.32 454.34,1125.25C454.79,1121.42 455.24,1114.88 455.69,1111.78C456.14,1108.69 456.59,1105.98 457.04,1105.05C457.35,1104.40 457.67,1103.83 457.98,1104.11C458.43,1104.51 458.88,1106.03 459.33,1107.74C459.91,1109.98 460.49,1113.85 461.08,1117.17C461.75,1121.01 462.42,1125.71 463.10,1129.29C463.77,1132.87 464.44,1136.88 465.12,1138.72C465.79,1140.56 466.46,1141.97 467.14,1142.76C467.95,1143.70 468.75,1144.55 469.56,1145.19C470.33,1145.79 471.09,1146.15 471.85,1146.53C472.44,1146.82 473.02,1145.23 473.60,1144.11C473.92,1143.50 474.23,1135.06 474.55,1127.95C474.77,1122.87 474.99,1109.43 475.22,1094.28C475.40,1082.15 475.58,1052.65 475.76,1040.40C476.03,1022.04 476.30,1018.72 476.57,1000.00C476.88,978.35 477.19,918.37 477.50,890.00C477.77,865.70 478.03,849.50 478.30,830.00C478.53,812.94 478.77,795.95 479.00,780.00C479.13,770.89 479.27,753.60 479.40,753.60C479.63,753.60 479.87,770.45 480.10,780.00C480.47,795.01 480.83,813.80 481.20,830.00C481.67,850.61 482.13,860.49 482.60,890.00C482.93,911.08 483.27,982.80 483.60,1000.00C483.86,1013.36 484.12,1018.88 484.38,1026.94C484.78,1039.50 485.19,1050.47 485.59,1060.61C486.08,1072.99 486.58,1081.42 487.07,1094.28C487.25,1098.92 487.43,1107.05 487.61,1109.85C487.96,1115.36 488.31,1117.93 488.66,1120.36C489.09,1123.35 489.51,1126.55 489.94,1128.54C490.49,1131.07 491.03,1133.65 491.58,1134.96C492.28,1136.65 492.98,1138.08 493.68,1139.05C494.46,1140.13 495.24,1141.00 496.01,1141.97C496.79,1142.94 497.57,1144.14 498.35,1144.89C499.13,1145.65 499.91,1146.36 500.69,1146.64C501.66,1146.99 502.63,1147.22 503.61,1147.46C504.58,1147.70 505.55,1147.91 506.53,1148.16C507.50,1148.41 508.47,1148.74 509.45,1148.98C510.42,1149.22 511.39,1149.61 512.36,1149.56C513.34,1149.52 514.31,1149.17 515.28,1148.98C516.26,1148.78 517.23,1148.52 518.20,1148.39C519.18,1148.26 520.15,1148.14 521.12,1148.16C522.10,1148.18 523.07,1148.30 524.04,1148.39C525.02,1148.49 525.99,1148.65 526.96,1148.74C527.74,1148.82 528.52,1148.70 529.30,1148.63C529.81,1148.58 530.31,1148.08 530.82,1147.46C531.21,1146.98 531.60,1145.68 531.99,1144.89C532.30,1144.26 532.61,1143.51 532.92,1143.14C533.19,1142.81 533.46,1142.52 533.74,1142.55C534.09,1142.60 534.44,1143.04 534.79,1143.49C535.22,1144.04 535.64,1145.02 536.07,1145.71C536.54,1146.46 537.01,1147.37 537.47,1147.81C538.06,1148.36 538.64,1148.80 539.23,1148.98C540.00,1149.22 540.78,1149.44 541.56,1149.56C542.54,1149.71 543.51,1149.73 544.48,1149.91C545.26,1150.06 546.04,1150.30 546.82,1150.50C547.60,1150.69 548.37,1150.93 549.15,1151.08C549.66,1151.18 550.17,1150.88 550.67,1150.50C551.14,1150.14 551.61,1148.75 552.07,1147.81C552.54,1146.87 553.01,1145.75 553.47,1144.89C553.98,1143.96 554.49,1143.16 554.99,1142.55C555.31,1142.18 555.62,1143.33 555.93,1143.14C556.21,1142.97 556.48,1139.51 556.75,1136.72C557.02,1133.92 557.30,1129.66 557.57,1126.20C557.88,1122.26 558.19,1118.26 558.50,1114.53C558.78,1111.26 559.05,1107.35 559.32,1105.18C559.55,1103.33 559.79,1101.72 560.02,1101.09C560.26,1100.47 560.49,1099.91 560.72,1099.93C560.96,1099.94 561.19,1100.74 561.42,1101.68C561.66,1102.62 561.89,1105.21 562.12,1107.52C562.40,1110.21 562.67,1113.77 562.94,1116.86C563.25,1120.39 563.56,1124.25 563.88,1127.37C564.23,1130.89 564.58,1134.52 564.93,1136.72C565.32,1139.16 565.71,1141.22 566.09,1142.55C566.56,1144.16 567.03,1145.77 567.50,1146.64C568.00,1147.59 568.51,1148.49 569.01,1148.98C569.60,1149.54 570.18,1150.09 570.77,1150.38C571.35,1150.67 571.93,1150.92 572.52,1150.96C572.99,1151.00 573.45,1150.62 573.92,1150.15C574.31,1149.75 574.70,1148.65 575.09,1147.81C575.48,1146.97 575.87,1145.76 576.26,1145.12C576.64,1144.48 577.03,1143.93 577.42,1143.72C577.81,1143.51 578.20,1143.33 578.59,1143.37C578.98,1143.42 579.37,1143.70 579.76,1144.07C580.27,1144.56 580.77,1145.57 581.28,1146.29C581.86,1147.13 582.45,1148.05 583.03,1148.74C583.61,1149.44 584.20,1150.14 584.78,1150.50C585.36,1150.85 585.95,1151.14 586.53,1151.31C587.31,1151.54 588.09,1151.80 588.87,1151.90C590.04,1152.04 591.20,1152.13 592.37,1152.25C593.54,1152.36 594.71,1152.50 595.88,1152.60C597.04,1152.70 598.21,1152.73 599.38,1152.83C600.55,1152.94 601.72,1153.19 602.88,1153.30C603.86,1153.39 604.83,1153.39 605.80,1153.30C606.39,1153.24 606.97,1152.92 607.55,1152.83C608.33,1152.72 609.11,1152.62 609.89,1152.60C610.86,1152.57 611.84,1152.61 612.81,1152.72C613.39,1152.78 613.98,1153.12 614.56,1153.18C615.73,1153.31 616.90,1153.42 618.07,1153.42C619.62,1153.42 621.18,1153.42 622.74,1153.42C624.29,1153.42 625.85,1153.42 627.41,1153.42C628.97,1153.42 630.52,1153.42 632.08,1153.42C633.05,1153.42 634.03,1153.42 635.00,1153.42C636.20,1153.42 637.40,1153.41 638.60,1153.40" stroke-width="0.98"/>
</g>
<g class="l">
<text x="163.55" y="505.30">1</text>
<text x="205.95" y="515.00">2</text>
<text x="232.30" y="451.90">3</text>
<text x="246.70" y="466.40">4</text>
<text x="292.80" y="454.00">5</text>
<text x="307.60" y="43.90">6</text>
<text x="345.90" y="455.90">7</text>
<text x="363.90" y="411.50">8</text>
<text x="385.35" y="383.80">9</text>
<text x="390.43" y="402.20">10</text>
<text x="405.68" y="355.80">11</text>
<text x="446.38" y="487.20">12</text>
<text x="460.98" y="372.50">13</text>
<text x="507.93" y="503.20">15</text>
<text x="522.48" y="453.20">16</text>
<text x="551.68" y="485.40">19</text>
<text x="575.18" y="487.80">20</text>
<text x="603.15" y="36.90">280 nm</text>
<text x="224.28" y="1138.30">14</text>
<text x="244.98" y="1142.70">17</text>
<text x="289.38" y="1117.00">18</text>
<text x="296.33" y="1141.60">21</text>
<text x="313.88" y="1144.80">22</text>
<text x="349.33" y="1086.00">23</text>
<text x="363.38" y="1138.60">24</text>
<text x="385.18" y="624.80">25</text>
<text x="433.98" y="1018.80">26</text>
<text x="448.93" y="1103.20">27</text>
<text x="469.78" y="751.30">28</text>
<text x="497.53" y="1139.10">29</text>
<text x="522.83" y="1139.10">30</text>
<text x="548.73" y="1097.40">31</text>
<text x="569.78" y="1137.50">32</text>
<text x="604.55" y="645.80">350 nm</text>
</g>
<text class="b" transform="translate(64.85,45.95) scale(1.087,1.06)">A</text>
<text class="b" transform="translate(63.92,649.1) scale(0.995,1.059)">B</text>
</svg></body></html>
